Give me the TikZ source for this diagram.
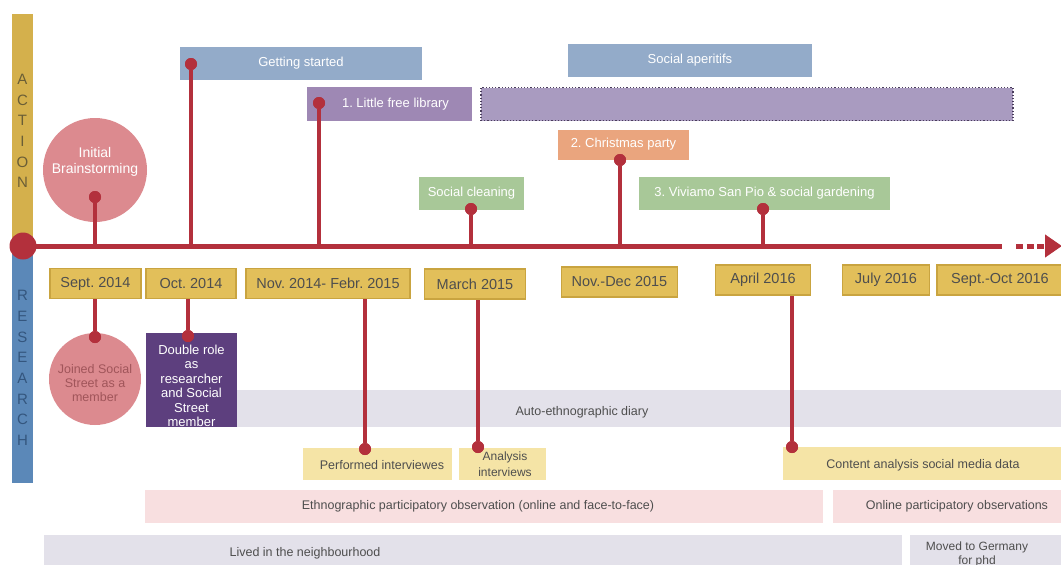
\documentclass[tikz,border=0pt]{standalone}
\usepackage{fontspec}
\setmainfont{Liberation Sans}
\usetikzlibrary{arrows.meta}
\frenchspacing

\definecolor{tlred}{HTML}{B3303C}
\definecolor{actgold}{HTML}{D4B04C}
\definecolor{actletter}{HTML}{6A5E36}
\definecolor{resblue}{HTML}{5B88B8}
\definecolor{resletter}{HTML}{34567E}
\definecolor{steelbox}{HTML}{93ABC9}
\definecolor{lilac}{HTML}{9E88B4}
\definecolor{lilaclight}{HTML}{A99BC0}
\definecolor{lilacedge}{HTML}{4A3D5C}
\definecolor{peach}{HTML}{EAA57E}
\definecolor{sage}{HTML}{A8C898}
\definecolor{rosecircle}{HTML}{DC8A8F}
\definecolor{rosetext}{HTML}{A0555A}
\definecolor{plum}{HTML}{5D3F7E}
\definecolor{dategold}{HTML}{E2BF5A}
\definecolor{dateedge}{HTML}{C9A440}
\definecolor{paleband}{HTML}{E3E1EA}
\definecolor{palegold}{HTML}{F5E4A6}
\definecolor{palepink}{HTML}{F8DFE0}
\definecolor{txtgray}{HTML}{4E4E4E}

\begin{document}
\begin{tikzpicture}[x=1pt,y=-1pt,
  box/.style={rectangle, inner sep=0pt, draw=none, text=white,
    font=\fontsize{13}{15}\selectfont},
  band/.style={rectangle, inner sep=0pt, draw=none},
  bandtxt/.style={text=txtgray, inner sep=0pt, align=center,
    font=\fontsize{12.5}{14.5}\selectfont},
  datebox/.style={rectangle, inner sep=0pt, fill=dategold, draw=dateedge,
    line width=1.5pt, text=txtgray, minimum height=30pt,
    font=\fontsize{14.5}{16}\selectfont},
  dot/.style={circle, fill=tlred, inner sep=0pt, minimum size=12pt},
  stem/.style={draw=tlred, line width=3.5pt},
  axisletter/.style={inner sep=0pt, font=\fontsize{15}{15}\selectfont}
]
\useasboundingbox (0,0) rectangle (1061,565);

% side bars
\node[band, fill=actgold, minimum width=21pt, minimum height=226pt] (actbar) at (22.5,127) {};
\node[band, fill=resblue, minimum width=21pt, minimum height=233pt] (resbar) at (22.5,366.5) {};
\foreach \ch/\yy in {A/79,C/100,T/120,I/141,O/162,N/182}
  \node[axisletter, text=actletter] at (22.5,\yy) {\ch};
\foreach \ch/\yy in {R/295,E/316,S/337,E/357,A/378,R/399,C/419,H/440}
  \node[axisletter, text=resletter] at (22.5,\yy) {\ch};

% timeline reference
\coordinate (tl) at (0,246);
\coordinate (tlstart) at (23,246);
\coordinate (tlend) at (1002,246);
\coordinate (dotsstart) at (1016,246);
\coordinate (tltip) at (1062,246);

% ---------- action side ----------
\node[circle, fill=rosecircle, inner sep=0pt, minimum size=104pt] (brain) at (95,170) {};
\node[text=white, align=center, font=\fontsize{14}{16}\selectfont] at (95,162) {Initial\\Brainstorming};

\node[box, fill=steelbox, minimum width=242pt, minimum height=33pt] (gs) at (301,63.5) {Getting started};
\node[box, fill=steelbox, minimum width=244pt, minimum height=33pt] (aper) at (690,60.5) {Social aperitifs};
\node[box, fill=lilac, minimum width=165pt, minimum height=34pt] (lib) at (389.5,104) {\hspace*{12pt}1. Little free library};
\node[band, fill=lilaclight, draw=lilacedge, line width=1.2pt, dotted,
  minimum width=532pt, minimum height=33pt] (libcont) at (747,104) {};
\node[box, fill=peach, minimum width=131pt, minimum height=30pt] (xmas) at (623.5,144.5) {2. Christmas party};
\node[box, fill=sage, minimum width=105pt, minimum height=33pt] (clean) at (471.5,193.5) {Social cleaning};
\node[box, fill=sage, minimum width=251pt, minimum height=33pt] (vivi) at (764.5,193.5) {3. Viviamo San Pio \& social gardening};

% dots on the action events
\node[dot] (dbrain) at (95,197) {};
\node[dot] (dgs) at (191,64) {};
\node[dot] (dlib) at (319,103) {};
\node[dot] (dxmas) at (620,160) {};
\node[dot] (dclean) at (471,209) {};
\node[dot] (dvivi) at (763,209) {};

\foreach \d in {dbrain,dgs,dlib,dxmas,dclean,dvivi}
  \draw[stem] (\d) -- (\d |- tl);
\foreach \d in {dbrain,dgs,dlib,dxmas,dclean,dvivi}
  \node[dot] at (\d) {};

% ---------- research side: bands ----------
\node[band, fill=paleband, minimum width=825pt, minimum height=37pt] (auto) at (648.5,408.5) {};
\node[bandtxt] at (582,412) {Auto-ethnographic diary};

\node[band, fill=palegold, minimum width=149pt, minimum height=32pt] (perf) at (377.5,464) {};
\node[bandtxt] at (382,465) {Performed interviewes};
\node[band, fill=palegold, minimum width=87pt, minimum height=32pt] (anal) at (502.5,464) {};
\node[bandtxt, font=\fontsize{12}{15.5}\selectfont] at (505,464) {Analysis\\interviews};
\node[band, fill=palegold, minimum width=280pt, minimum height=33pt] (content) at (923,463.5) {};
\node[bandtxt] at (923,465) {Content analysis social media data};

\node[band, fill=palepink, minimum width=678pt, minimum height=33pt] (ethno) at (484,506.5) {};
\node[bandtxt] at (478,506) {Ethnographic participatory observation (online and face-to-face)};
\node[band, fill=palepink, minimum width=229pt, minimum height=33pt] (online) at (947.5,506.5) {};
\node[bandtxt] at (957,506) {Online participatory observations};

\node[band, fill=paleband, minimum width=858pt, minimum height=32pt] (lived) at (473,551) {};
\node[bandtxt] at (305,553) {Lived in the neighbourhood};
\node[band, fill=paleband, minimum width=152pt, minimum height=32pt] (moved) at (986,551) {};
\node[bandtxt, font=\fontsize{12}{14}\selectfont] at (977,554) {Moved to Germany\\for phd};

% ---------- research side: events ----------
\node[circle, fill=rosecircle, inner sep=0pt, minimum size=92pt] (joined) at (95,379) {};
\node[text=rosetext, align=center, font=\fontsize{12.5}{14}\selectfont] at (95,383) {Joined Social\\Street as a\\member};

\node[band, fill=plum, minimum width=91pt, minimum height=94pt] (double) at (191.5,380) {};
\begin{scope}
  \clip (146,333) rectangle (237,427);
  \node[text=white, align=center, inner sep=0pt, font=\fontsize{13}{14.5}\selectfont]
    at (191.5,386) {Double role\\as\\researcher\\and Social\\Street\\member};
\end{scope}

% date labels
\node[datebox, minimum width=91pt] (sep14) at (95.5,283.5) {Sept. 2014};
\node[datebox, minimum width=90pt] (oct14) at (191,283.5) {Oct. 2014};
\node[datebox, minimum width=164pt] (nov14) at (328,283.5) {Nov. 2014- Febr. 2015};
\node[datebox, minimum width=101pt] (mar15) at (475,284) {March 2015};
\node[datebox, minimum width=116pt] (nov15) at (619.5,282) {Nov.-Dec 2015};
\node[datebox, minimum width=95pt] (apr16) at (763,280) {April 2016};
\node[datebox, minimum width=87pt] (jul16) at (886,280) {July 2016};
\node[datebox, minimum width=126pt] (sep16) at (1000,280) {Sept.-Oct 2016};

% dots of the research events
\node[dot] (djoined) at (95,337) {};
\node[dot] (ddouble) at (188,336) {};
\node[dot] (dperf) at (365,449) {};
\node[dot] (danal) at (478,447) {};
\node[dot] (dcontent) at (792,447) {};

\draw[stem] (djoined) -- (djoined |- sep14.south);
\draw[stem] (ddouble) -- (ddouble |- oct14.south);
\draw[stem] (dperf) -- (dperf |- nov14.south);
\draw[stem] (danal) -- (danal |- mar15.south);
\draw[stem] (dcontent) -- (dcontent |- apr16.south);
\foreach \d in {djoined,ddouble,dperf,danal,dcontent}
  \node[dot] at (\d) {};

% ---------- timeline ----------
\draw[tlred, line width=5pt] (tlstart) -- (tlend);
\draw[tlred, line width=5pt, dash pattern=on 7pt off 3.5pt,
  -{Triangle[length=17pt,width=22pt]}] (dotsstart) -- (tltip);
\node[circle, fill=tlred, inner sep=0pt, minimum size=27pt] (origin) at (tlstart) {};
\end{tikzpicture}
\end{document}
